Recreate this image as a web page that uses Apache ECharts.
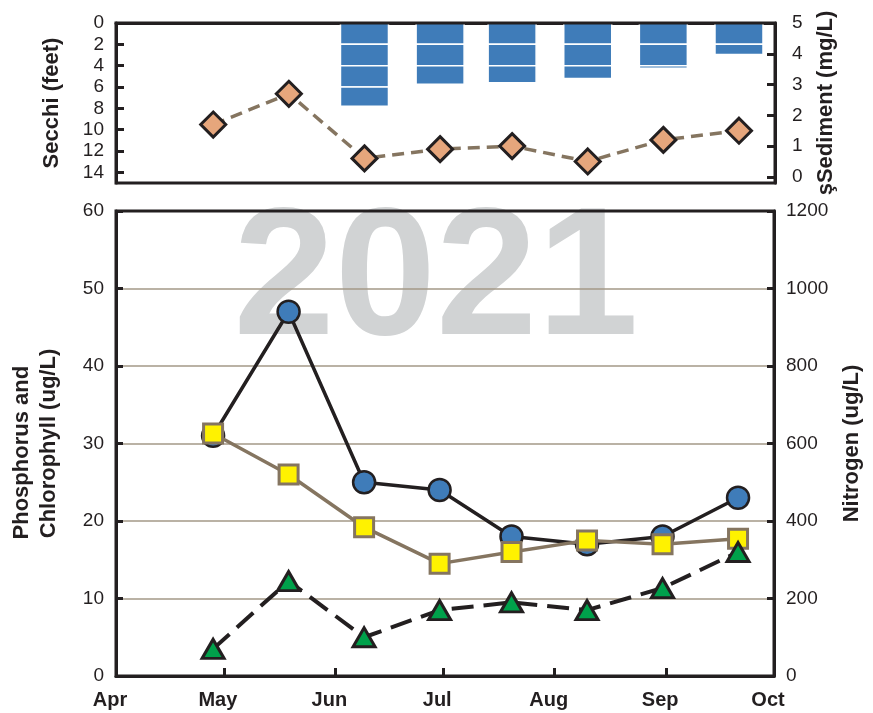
<!DOCTYPE html>
<html>
<head>
<meta charset="utf-8">
<script src="https://cdn.jsdelivr.net/npm/echarts@6/dist/echarts.min.js"></script>
<style>
html,body{margin:0;padding:0;background:#fff;}
#chart{width:873px;height:713px;}
</style>
</head>
<body>
<div id="chart"></div>
<script>
// ---- data ----
const sampleDates = ['2021-04-28','2021-05-19','2021-06-09','2021-06-30','2021-07-20','2021-08-10','2021-08-31','2021-09-21'];
const secchiFeet = [null, null, 7.8, 5.75, 5.6, 5.2, 4.25, 2.95];
const sedimentMgL = [1.7, 2.7, 0.6, 0.9, 1.0, 0.5, 1.2, 1.5];
const phosphorus = [31, 47, 25, 24, 18, 17, 18, 23];
const chlorophyll = [31.3, 26, 19.2, 14.5, 16, 17.5, 17, 17.7];
const nitrogen = [70, 245, 100, 170, 190, 170, 227, 320];
const monthLabels = ['Apr','May','Jun','Jul','Aug','Sep','Oct'];
const secchiTicks = [0, 2, 4, 6, 8, 10, 12, 14];
const sedimentTicks = [0, 1, 2, 3, 4, 5];
const yearLabel = '2021';

const FONT = "'Liberation Sans', Arial, Helvetica, sans-serif";
const INK = '#231f20';
const TAN = '#857560';
const BLUE = '#3f7cb9';
const SEG = 2; // Secchi bar drawn in 2-ft blocks

const pairs = arr => arr.map((v, i) => [sampleDates[i], v]);
const secchiData = pairs(secchiFeet).filter(d => d[1] != null);

const chart = echarts.init(document.getElementById('chart'), null, {renderer: 'canvas'});

const tickLabel = {fontFamily: FONT, fontSize: 19, color: INK};
const nameStyle = {fontFamily: FONT, fontSize: 22, fontWeight: 'bold', color: INK};
const gridFrame = {show: true, z: 10, backgroundColor: 'transparent', borderWidth: 3, borderColor: INK};

const option = {
  animation: false,
  backgroundColor: '#ffffff',
  textStyle: {fontFamily: FONT},
  grid: [
    Object.assign({left: 116, top: 23, width: 659, height: 160}, gridFrame),
    Object.assign({left: 116, top: 211, width: 658, height: 465}, gridFrame)
  ],
  graphic: [{
    type: 'text', z: -1, x: 436, y: 284,
    style: {text: yearLabel, fill: '#d1d3d4', font: 'bold 182px ' + FONT,
      align: 'center', verticalAlign: 'middle', textAlign: 'center', textVerticalAlign: 'middle'}
  }],
  xAxis: [
    {type: 'time', gridIndex: 0, min: '2021-04-01', max: '2021-10-01',
      axisLine: {show: true, lineStyle: {color: INK, width: 3}},
      axisTick: {show: false}, axisLabel: {show: false}, splitLine: {show: false}},
    {type: 'time', gridIndex: 1, min: '2021-04-01', max: '2021-10-01', splitNumber: 6,
      axisLine: {show: true, lineStyle: {color: INK, width: 3}},
      axisTick: {show: true, inside: true, length: 8, lineStyle: {color: INK, width: 3}},
      axisLabel: {show: true, fontFamily: FONT, fontSize: 20, fontWeight: 'bold', color: INK, margin: 14,
        padding: [0, 12, 0, 0], showMinLabel: true, showMaxLabel: true,
        formatter: function (val) { return monthLabels[new Date(val).getMonth() - 3] || ''; }},
      splitLine: {show: false}}
  ],
  yAxis: [
    {type: 'value', gridIndex: 0, position: 'left', inverse: true, min: 0, max: 15,
      name: 'Secchi (feet)', nameLocation: 'middle', nameRotate: 90, nameGap: 53, nameTextStyle: nameStyle,
      axisLine: {show: true, lineStyle: {color: INK, width: 3}},
      axisTick: {show: true, inside: true, length: 8, lineStyle: {color: INK, width: 3}, customValues: secchiTicks},
      axisLabel: Object.assign({margin: 12, customValues: secchiTicks}, tickLabel),
      splitLine: {show: false}},
    {type: 'value', gridIndex: 0, position: 'right', min: -0.2, max: 5,
      name: 'şSediment (mg/L)', nameLocation: 'middle', nameRotate: 90, nameGap: 40, nameTextStyle: nameStyle,
      axisLine: {show: true, lineStyle: {color: INK, width: 3}},
      axisTick: {show: true, inside: true, length: 8, lineStyle: {color: INK, width: 3}, customValues: sedimentTicks},
      axisLabel: Object.assign({margin: 17, customValues: sedimentTicks}, tickLabel),
      splitLine: {show: false}},
    {type: 'value', gridIndex: 1, position: 'left', min: 0, max: 60, interval: 10,
      name: 'Phosphorus and   \nChlorophyll (ug/L)', nameLocation: 'middle', nameRotate: 90, nameGap: 54,
      nameTextStyle: Object.assign({lineHeight: 27}, nameStyle),
      axisLine: {show: true, lineStyle: {color: INK, width: 3}},
      axisTick: {show: true, inside: true, length: 7, lineStyle: {color: INK, width: 3}},
      axisLabel: Object.assign({margin: 12}, tickLabel),
      splitLine: {show: true, showMinLine: false, showMaxLine: false, lineStyle: {color: '#a39887', width: 1.5}}},
    {type: 'value', gridIndex: 1, position: 'right', min: 0, max: 1200, interval: 200,
      name: 'Nitrogen (ug/L)', nameLocation: 'middle', nameRotate: 90, nameGap: 67, nameTextStyle: nameStyle,
      axisLine: {show: true, lineStyle: {color: INK, width: 3}},
      axisTick: {show: true, inside: true, length: 7, lineStyle: {color: INK, width: 3}},
      axisLabel: Object.assign({margin: 12, formatter: v => String(v)}, tickLabel),
      splitLine: {show: false}}
  ],
  series: [
    {type: 'custom', name: 'Secchi', xAxisIndex: 0, yAxisIndex: 0, data: secchiData, z: 2, silent: true,
      encode: {x: 0, y: 1},
      renderItem: function (params, api) {
        const date = api.value(0), depth = api.value(1);
        const children = [];
        for (let top = 0; top < depth; top += SEG) {
          const bot = Math.min(top + SEG, depth);
          const p0 = api.coord([date, top]);
          const p1 = api.coord([date, bot]);
          children.push({type: 'rect',
            shape: {x: p0[0] - 24, y: p0[1], width: 48, height: p1[1] - p0[1]},
            style: {fill: BLUE, stroke: '#ffffff', lineWidth: 1.5}});
        }
        return {type: 'group', children: children};
      }},
    {type: 'line', name: 'Sediment', xAxisIndex: 0, yAxisIndex: 1, data: pairs(sedimentMgL), z: 4,
      symbol: 'diamond', symbolSize: 25,
      lineStyle: {color: TAN, width: 3.5, type: [12, 7]},
      itemStyle: {color: '#e6a67c', borderColor: INK, borderWidth: 3}},
    {type: 'line', name: 'Phosphorus', xAxisIndex: 1, yAxisIndex: 2, data: pairs(phosphorus), z: 4,
      symbol: 'circle', symbolSize: 22,
      lineStyle: {color: INK, width: 3.5},
      itemStyle: {color: BLUE, borderColor: INK, borderWidth: 2.5}},
    {type: 'line', name: 'Chlorophyll', xAxisIndex: 1, yAxisIndex: 2, data: pairs(chlorophyll), z: 5,
      symbol: 'rect', symbolSize: 19,
      lineStyle: {color: TAN, width: 3.5},
      itemStyle: {color: '#fff200', borderColor: TAN, borderWidth: 3}},
    {type: 'line', name: 'Nitrogen', xAxisIndex: 1, yAxisIndex: 3, data: pairs(nitrogen), z: 6,
      symbol: 'triangle', symbolSize: [22, 19],
      lineStyle: {color: INK, width: 4, type: [22, 10]},
      itemStyle: {color: '#00a14b', borderColor: INK, borderWidth: 3}}
  ]
};
chart.setOption(option);
</script>
</body>
</html>
